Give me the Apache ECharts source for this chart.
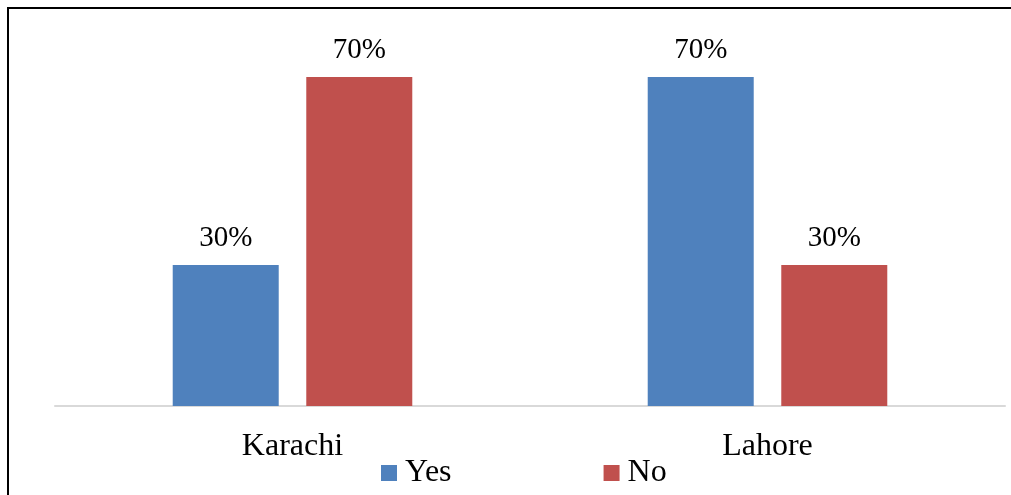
<!DOCTYPE html>
<html>
<head>
<meta charset="utf-8">
<script src="https://cdn.jsdelivr.net/npm/echarts@6/dist/echarts.min.js"></script>
<style>
  html, body { margin: 0; padding: 0; background: #fff; }
  #chart { width: 1011px; height: 495px; }
</style>
</head>
<body>
<div id="chart"></div>
<script>
// Survey responses by city (percent)
const cities = ['Karachi', 'Lahore'];
const yesValues = [30, 70];
const noValues = [70, 30];
const seriesNames = ['Yes', 'No'];

const FONT = '"Liberation Serif", "Times New Roman", serif';
const labelStyle = {
  show: true,
  position: 'top',
  distance: 12,
  fontFamily: FONT,
  fontSize: 29,
  color: '#000',
  formatter: p => p.value + '%'
};

const chart = echarts.init(document.getElementById('chart'), null, { renderer: 'canvas' });
chart.setOption({
  animation: false,
  backgroundColor: '#fff',
  grid: { left: 55, right: 6, top: 30, bottom: 89, containLabel: false },
  graphic: [{
    type: 'polyline',
    shape: { points: [[8, 495], [8, 8], [1011, 8]] },
    style: { stroke: '#000', lineWidth: 2, fill: null }
  }],
  legend: {
    left: 376,
    top: 452,
    itemWidth: 16,
    itemHeight: 16,
    itemGap: 152,
    icon: 'rect',
    textStyle: { fontFamily: FONT, fontSize: 32, color: '#000', padding: [0, 0, 0, 3] },
    data: seriesNames
  },
  xAxis: {
    type: 'category',
    data: cities,
    axisLine: { show: true, lineStyle: { color: '#d9d9d9', width: 2 } },
    axisTick: { show: false },
    axisLabel: { fontFamily: FONT, fontSize: 32, color: '#000', margin: 25 }
  },
  yAxis: {
    type: 'value',
    min: 0,
    max: 80,
    show: false,
    splitLine: { show: false }
  },
  series: [
    {
      name: seriesNames[0],
      type: 'bar',
      data: yesValues,
      barWidth: 106,
      barGap: '26%',
      itemStyle: { color: '#4F81BD' },
      label: labelStyle
    },
    {
      name: seriesNames[1],
      type: 'bar',
      data: noValues,
      barWidth: 106,
      itemStyle: { color: '#C0504D' },
      label: labelStyle
    }
  ]
});
</script>
</body>
</html>
